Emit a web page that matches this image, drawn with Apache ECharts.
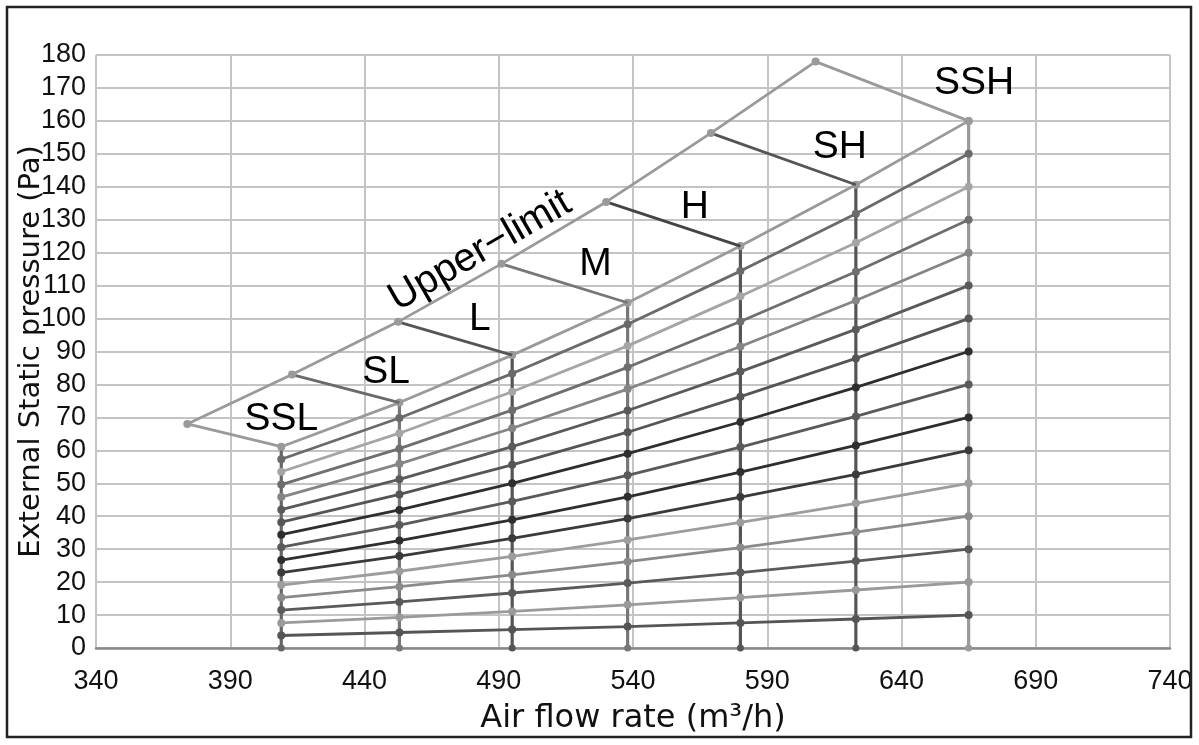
<!DOCTYPE html>
<html>
<head>
<meta charset="utf-8">
<script src="https://cdn.jsdelivr.net/npm/echarts@6/dist/echarts.min.js"></script>
<style>
html,body{margin:0;padding:0;background:#fff;}
#c{width:1199px;height:745px;}
</style>
</head>
<body>
<div id="c"></div>
<script>
// ---- data ----
const xTickLabels = [340, 390, 440, 490, 540, 590, 640, 690, 740];
const yMin = 0, yMax = 180, yStep = 10;
// fan speed columns (air flow m3/h)
const columnNames = ['SSL', 'SL', 'L', 'M', 'H', 'SH', 'SSH'];
const columnX = [409, 453, 495, 538, 580, 623, 665];
// static-pressure curves, values at each column (Pa)
const curve1  = [3.8, 4.7, 5.6, 6.5, 7.6, 8.8, 10];
const curve2  = [7.6, 9.3, 11.1, 13.1, 15.3, 17.6, 20];
const curve3  = [11.5, 14.0, 16.7, 19.7, 22.9, 26.4, 30];
const curve4  = [15.3, 18.6, 22.2, 26.2, 30.5, 35.2, 40];
const curve5  = [19.1, 23.3, 27.8, 32.8, 38.1, 43.9, 50];
const curve6  = [22.9, 27.9, 33.3, 39.3, 45.8, 52.7, 60];
const curve7  = [26.7, 32.6, 38.9, 45.9, 53.4, 61.5, 70];
const curve8  = [30.6, 37.3, 44.5, 52.4, 61.0, 70.3, 80];
const curve9  = [34.4, 41.9, 50.0, 59.0, 68.6, 79.1, 90];
const curve10 = [38.2, 46.6, 55.6, 65.5, 76.3, 87.9, 100];
const curve11 = [42.0, 51.2, 61.1, 72.1, 83.9, 96.7, 110];
const curve12 = [45.8, 55.9, 66.7, 78.6, 91.5, 105.5, 120];
const curve13 = [49.6, 60.5, 72.2, 85.2, 99.1, 114.2, 130];
const curve14 = [53.5, 65.2, 77.8, 91.7, 106.8, 123.0, 140];
const curve15 = [57.3, 69.8, 83.3, 98.3, 114.4, 131.8, 150];
const curve16 = [61.1, 74.5, 88.9, 104.8, 122.0, 140.6, 160];
// upper-limit boundary points
const upperX = [374, 413, 452.5, 491, 530, 569, 608, 665];
const upperY = [68, 83, 99, 116.6, 135.4, 156.3, 178, 160];
// text labels
const labelNames = ['SSL', 'SL', 'L', 'M', 'H', 'SH', 'SSH'];
const labelX = [409, 448, 483, 526, 563, 617, 667];
const labelY = [69.5, 83.8, 99.9, 116.6, 133.7, 151.9, 171.5];
const upperLabel = {name: 'Upper\u2212limit', x: 483, y: 120.5};

// ---- styles ----
const curves = [curve1, curve2, curve3, curve4, curve5, curve6, curve7, curve8,
                curve9, curve10, curve11, curve12, curve13, curve14, curve15, curve16];
const curveColors = ['#555555', '#9a9a9a', '#5a5a5a', '#8a8a8a', '#9d9d9d', '#3a3a3a',
                     '#2e2e2e', '#5a5a5a', '#2e2e2e', '#555555', '#5a5a5a', '#858585',
                     '#6e6e6e', '#a5a5a5', '#6a6a6a', '#9a9a9a'];
const columnColors = ['#666666', '#777777', '#555555', '#777777', '#555555', '#555555', '#9a9a9a'];
const connColors = ['#9a9a9a', '#6a6a6a', '#555555', '#777777', '#444444', '#555555'];
const X0 = xTickLabels[0];
const px = x => x - X0; // axis runs from 0 with labels offset

const series = [];
// verticals
columnX.forEach((x, i) => {
  series.push({
    type: 'line', data: [[px(x), 0], [px(x), curve16[i]]],
    symbol: 'circle', symbolSize: 7, itemStyle: {color: columnColors[i]},
    lineStyle: {color: columnColors[i], width: 3.2}, z: 2, silent: true
  });
});
// curves
curves.forEach((c, k) => {
  series.push({
    type: 'line', data: columnX.map((x, i) => [px(x), c[i]]),
    symbol: 'circle', symbolSize: 8, itemStyle: {color: curveColors[k]},
    lineStyle: {color: curveColors[k], width: 2.8}, z: 3, silent: true
  });
});
// connectors
connColors.forEach((col, i) => {
  series.push({
    type: 'line', data: [[px(upperX[i]), upperY[i]], [px(columnX[i]), curve16[i]]],
    symbol: 'none', lineStyle: {color: col, width: 2.8}, z: 4, silent: true
  });
});
// upper-limit polyline
series.push({
  type: 'line', data: upperX.map((x, i) => [px(x), upperY[i]]),
  symbol: 'circle', symbolSize: 8, itemStyle: {color: '#9a9a9a'},
  lineStyle: {color: '#9a9a9a', width: 2.8}, z: 5, silent: true
});
// labels
const labelData = labelNames.map((n, i) => ({name: n, value: [px(labelX[i]), labelY[i]]}));
labelData.push({name: upperLabel.name, value: [px(upperLabel.x), upperLabel.y],
  label: {rotate: 30, fontSize: 40}});
series.push({
  type: 'scatter', data: labelData, symbolSize: 1,
  itemStyle: {color: 'transparent', opacity: 1},
  label: {show: true, position: 'inside', formatter: p => p.name, color: '#000', opacity: 1,
          textBorderWidth: 0, fontFamily: 'Liberation Sans, Arial, sans-serif', fontSize: 39},
  z: 6, silent: true
});

const chart = echarts.init(document.getElementById('c'), null, {renderer: 'canvas'});
chart.setOption({
  animation: false,
  backgroundColor: '#fff',
  grid: {left: 96, right: 29, top: 55, bottom: 97, containLabel: false, outerBoundsMode: 'none'},
  xAxis: {
    type: 'value', min: 0, max: xTickLabels[xTickLabels.length - 1] - X0,
    interval: xTickLabels[1] - xTickLabels[0],
    name: 'Air flow rate (m\u00b3/h)', nameLocation: 'middle', nameGap: 55, nameMoveOverlap: false,
    nameTextStyle: {fontFamily: 'DejaVu Sans, sans-serif', fontSize: 32, color: '#111'},
    axisLine: {show: true, onZero: false, lineStyle: {color: '#888', width: 2.5}},
    axisTick: {show: false},
    axisLabel: {formatter: v => String(v + X0), margin: 20, color: '#111',
                fontFamily: 'Liberation Sans, Arial, sans-serif', fontSize: 27},
    splitLine: {show: true, lineStyle: {color: '#c4c4c4', width: 2}}
  },
  yAxis: {
    type: 'value', min: yMin, max: yMax, interval: yStep,
    name: 'External Static pressure (Pa)', nameLocation: 'middle', nameGap: 50, nameMoveOverlap: false,
    nameTextStyle: {fontFamily: 'DejaVu Sans, sans-serif', fontSize: 29, color: '#111'},
    axisLine: {show: false}, axisTick: {show: false},
    axisLabel: {margin: 10, color: '#111',
                fontFamily: 'Liberation Sans, Arial, sans-serif', fontSize: 27},
    splitLine: {show: true, lineStyle: {color: '#c4c4c4', width: 2}}
  },
  graphic: [{type: 'rect', shape: {x: 7, y: 7, width: 1184, height: 730},
    style: {fill: 'none', stroke: '#222', lineWidth: 2.5}, z: 100, silent: true}],
  series: series
});
</script>
</body>
</html>
